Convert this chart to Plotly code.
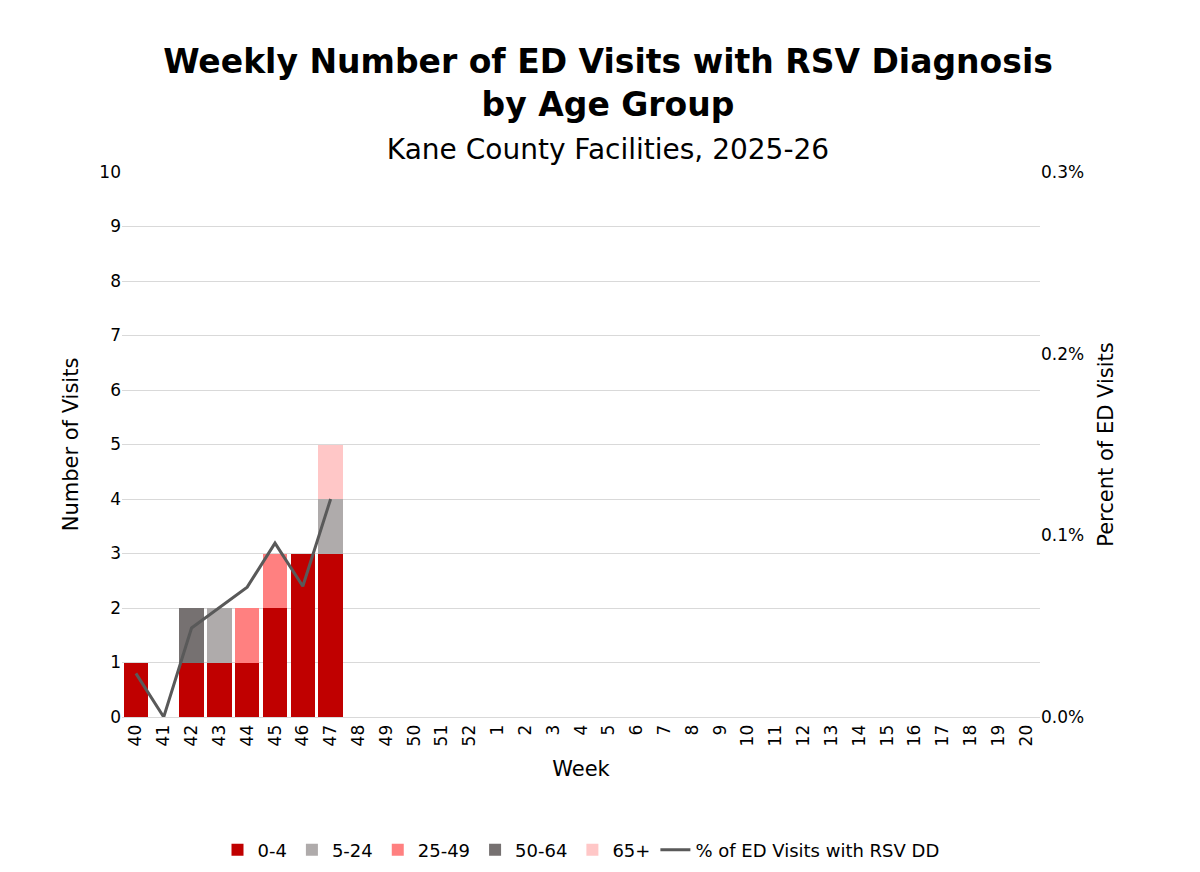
import plotly.graph_objects as go

weeks = [str(w) for w in list(range(40, 53)) + list(range(1, 21))]
age_0_4 = [1, 0, 1, 1, 1, 2, 3, 3]
age_5_24 = [0, 0, 0, 1, 0, 0, 0, 1]
age_25_49 = [0, 0, 0, 0, 1, 1, 0, 0]
age_50_64 = [0, 0, 1, 0, 0, 0, 0, 0]
age_65 = [0, 0, 0, 0, 0, 0, 0, 1]
pct_rsv = [0.00024, 0.0, 0.00049, 0.00060, 0.000715, 0.000957, 0.00072, 0.00120]

series = [("0-4", age_0_4, "#C00000"), ("5-24", age_5_24, "#AFABAB"),
          ("25-49", age_25_49, "#FF8080"), ("50-64", age_50_64, "#767171"),
          ("65+", age_65, "#FFC7C7")]

fig = go.Figure()
for name, vals, col in series:
    fig.add_trace(go.Bar(x=weeks[:len(vals)], y=vals, name=name, marker_color=col,
                         marker_line_width=0))
fig.add_trace(go.Scatter(x=weeks[:len(pct_rsv)], y=pct_rsv, name="% of ED Visits with RSV DD",
                         mode="lines", line=dict(color="#595959", width=3), yaxis="y2"))

fig.update_layout(
    width=1200, height=872, barmode="stack", bargap=0.12,
    paper_bgcolor="white", plot_bgcolor="white",
    font=dict(family="DejaVu Sans", size=17, color="black"),
    title=dict(text="<b>Weekly Number of ED Visits with RSV Diagnosis<br>by Age Group</b><br>"
                    "<span style='font-size:28px'>Kane County Facilities, 2025-26</span>",
               x=0.5, xanchor="center", y=0.925, yanchor="top", font=dict(size=33)),
    margin=dict(l=114, r=168, t=164, b=153),
    xaxis=dict(categoryorder="array", categoryarray=weeks, tickangle=-90,
               title=dict(text="Week", font=dict(size=21)), range=[-0.5, len(weeks) - 0.5],
               showline=True, linecolor="#d9d9d9", ticks=""),
    yaxis=dict(range=[0, 10], dtick=1, gridcolor="#d9d9d9",
               title=dict(text="Number of Visits", font=dict(size=21)), zeroline=False),
    yaxis2=dict(range=[0, 0.003], dtick=0.001, tickformat=".1%", overlaying="y", side="right",
                showgrid=False, title=dict(text="Percent of ED Visits", font=dict(size=21))),
    legend=dict(orientation="h", traceorder="normal", x=0.5, xanchor="center", y=-0.21,
                yanchor="top", font=dict(size=18)),
)
fig.write_html("out.html")
